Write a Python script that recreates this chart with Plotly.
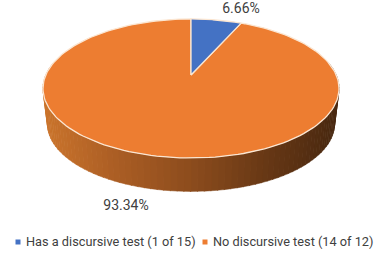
import numpy as np
import plotly.graph_objects as go

# Data
categories = ["Has a discursive test (1 of 15)", "No discursive test (14 of 12)"]
shares = [6.66, 93.34]
colors = ["#4472C4", "#ED7D31"]
share_labels = ["6.66%", "93.34%"]

# Drawing geometry, in pixels of the 376x256 page
W, H = 376, 256
CX, APEX_Y = 191, 75      # projected centre of the pie
RX, RY, PERSP = 145.2, 66.9, 0.194
BASE_SCALE, BASE_MID, TOP_MID = 0.97, 124, 88.5
RIM = "#FBE6D2"
SIDE_STOPS = [(0.0, (202, 116, 44)), (0.25, (170, 93, 36)), (0.5, (140, 76, 29)),
              (0.75, (104, 56, 21)), (1.0, (72, 40, 16))]


def project(theta):
    """Clockwise angle from 12 o'clock to a point on the tilted disc."""
    u, v = np.sin(theta), -np.cos(theta)
    d = 1 - PERSP * v
    return CX + RX * u / d, APEX_Y + RY * v / d


def base(x, y):
    return CX + BASE_SCALE * (x - CX), BASE_MID + BASE_SCALE * (y - TOP_MID)


def side_color(t):
    pos = [s[0] for s in SIDE_STOPS]
    rgb = [np.interp(t, pos, [s[1][i] for s in SIDE_STOPS]) for i in range(3)]
    return "rgb({:.0f},{:.0f},{:.0f})".format(*rgb)


fig = go.Figure()

# Pie wall: thin strips along the near half, light on the left to dark on the right
edges = np.linspace(np.radians(80), np.radians(280), 91)
for i in range(len(edges) - 1):
    a = np.linspace(edges[i], edges[i + 1] + 0.004, 3)
    x, y = project(a)
    bx, by = base(x, y)
    t = (0.5 * (x[0] + x[-1]) - 43) / 296
    c = side_color(float(np.clip(t, 0, 1)))
    fig.add_trace(go.Scatter(
        x=np.r_[x, bx[::-1], x[0]], y=np.r_[y, by[::-1], y[0]],
        mode="lines", fill="toself", fillcolor=c,
        line=dict(color=c, width=0.5), hoverinfo="skip", showlegend=False))

# Top faces, drawn from the shares
cum = np.cumsum([0] + shares) / sum(shares) * 2 * np.pi
for i in [1, 0]:
    a = np.linspace(cum[i], cum[i + 1], 180)
    x, y = project(a)
    fig.add_trace(go.Scatter(
        x=np.r_[CX, x, CX], y=np.r_[APEX_Y, y, APEX_Y],
        mode="lines", fill="toself", fillcolor=colors[i],
        line=dict(color=RIM, width=1.3), name=categories[i],
        hoverinfo="name", showlegend=False))

# Percentage labels
fig.add_trace(go.Scatter(
    x=[241, 126], y=[9.5, 206.5], mode="text", text=share_labels,
    textposition="middle center",
    textfont=dict(family="Roboto", size=14, color="#404040"),
    hoverinfo="skip", showlegend=False))

# Legend row
for cat, col, lx in zip(categories, colors, [18, 205]):
    fig.add_trace(go.Scatter(
        x=[lx], y=[242], mode="markers",
        marker=dict(symbol="square", size=5, color=col),
        hoverinfo="skip", showlegend=False))
    fig.add_trace(go.Scatter(
        x=[lx + 8], y=[243], mode="text", text=[cat],
        textposition="middle right",
        textfont=dict(family="Roboto", size=12.75, color="#404040"),
        hoverinfo="skip", showlegend=False))

fig.update_layout(
    width=W, height=H, margin=dict(l=0, r=0, t=0, b=0),
    paper_bgcolor="white", plot_bgcolor="white", showlegend=False,
    xaxis=dict(range=[0, W], visible=False, fixedrange=True),
    yaxis=dict(range=[H, 0], visible=False, fixedrange=True),
)
fig.write_html("out.html", config={"displayModeBar": False},
               post_script="document.body.style.margin='0';document.documentElement.style.overflow='hidden';")
